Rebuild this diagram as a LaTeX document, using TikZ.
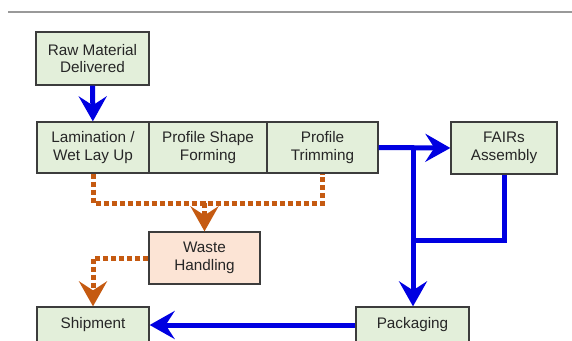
\documentclass[tikz,border=0pt]{standalone}
\usepackage{fontspec}
\setmainfont{Liberation Sans}
\usetikzlibrary{arrows.meta}
\definecolor{boxgreen}{RGB}{227,239,218}
\definecolor{boxpeach}{RGB}{252,228,213}
\definecolor{flowblue}{RGB}{0,0,225}
\definecolor{wasteorange}{RGB}{197,90,17}
\definecolor{boxline}{RGB}{60,60,60}
\begin{document}
\begin{tikzpicture}[x=1pt, y=-1pt,
    process/.style ={rectangle, draw=boxline, line width=1.3pt, fill=boxgreen, inner sep=0pt,
       align=center, text=black!85, font=\fontsize{15.3}{17.5}\selectfont, minimum height=52pt},
    wastebox/.style ={process, fill=boxpeach},
    flow/.style ={draw=flowblue, line width=5pt},
    scrap/.style ={draw=wasteorange, line width=5pt, dash pattern=on 5pt off 3pt},
    head/.style ={-{Stealth[length=25pt, width=28pt, inset=9pt]}}]
   \useasboundingbox (0,0) rectangle (572,340);
   \draw[black!40, line width=1.3pt] (8,12) -- (572,12);

   \node[process, minimum width=113pt, minimum height=53pt] (raw) at (92.5,58.5) {Raw Material\\Delivered};
   \node[process, minimum width=112pt, minimum height=51pt] (lam) at (93,147.5) {Lamination /\\Wet Lay Up};
   \node[process, minimum width=118pt, minimum height=51pt] (shape) at (208,147.5) {Profile Shape\\Forming};
   \node[process, minimum width=111pt, minimum height=51pt] (trim) at (322.5,147.5) {Profile\\Trimming};
   \node[process, minimum width=106pt] (fairs) at (504,148) {FAIRs\\Assembly};
   \node[wastebox, minimum width=111pt] (waste) at (204.5,258) {Waste\\Handling};
   \node[process, minimum width=112pt, minimum height=36pt] (ship) at (93,325) {Shipment};
   \node[process, minimum width=113pt, minimum height=36pt] (pack) at (412.5,325) {Packaging};

   \coordinate (j1) at (413,147.5);
   \coordinate (j2) at (413,240);
   \coordinate (w1) at (204.5,203);

   \draw[flow, head] (raw) to (lam);
   \draw[flow, head] (trim.east) to (fairs.west);
   \draw[flow, head] (j1) to (j1 |- pack.north);
   \draw[flow] (fairs.south) |- (j2);
   \draw[flow, head] (pack.west) to (ship.east);

   \draw[scrap] (lam.south) |- (w1) -| (trim.south);
   \draw[scrap, head] (w1) to (waste.north);
   \draw[scrap, head] (waste.west) -| (ship.north);
\end{tikzpicture}
\end{document}
